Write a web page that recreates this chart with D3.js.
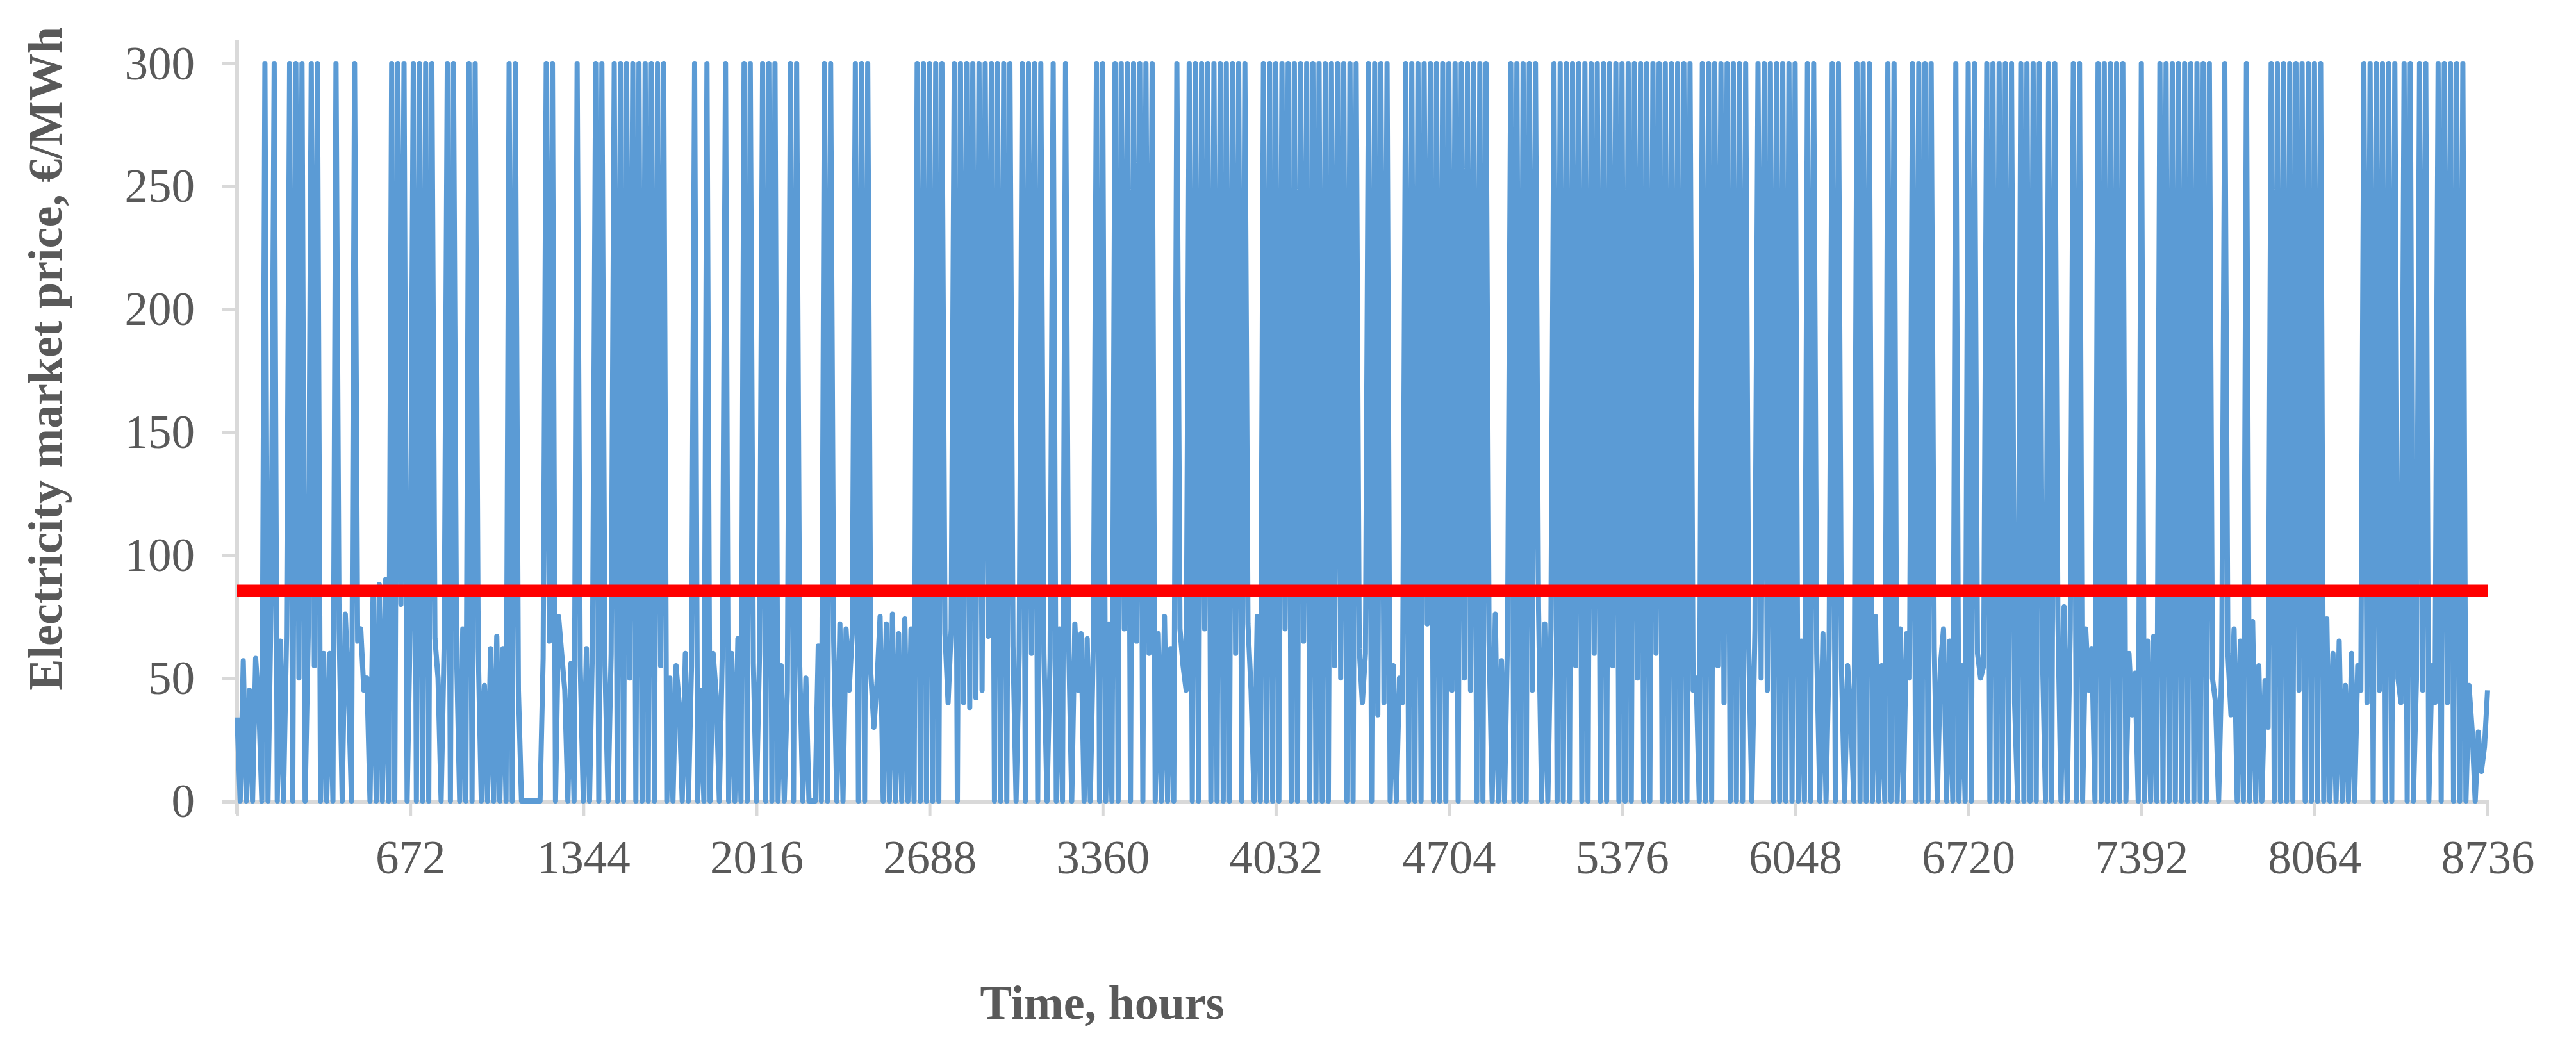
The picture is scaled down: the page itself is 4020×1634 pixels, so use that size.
<!DOCTYPE html>
<html>
<head>
<meta charset="utf-8">
<script src="https://cdn.jsdelivr.net/npm/d3@7"></script>
<style>
body{margin:0;background:#fff;}
text{font-family:"Liberation Serif","Times New Roman",serif;fill:#595959;}
</style>
</head>
<body>
<script>
// price readings (EUR/MWh), one every 12 hours, each list covers 672 hours
var step=12
var p0000=[34,0,57,0,45,0,58,40,0,300, 0,81,300,0,65,0,67,300,0,300, 50,300,0,67,300,55,300,0,60,0,
  60,0,300,70,0,76,47,0,300,65, 70,45,50,0,85,0,88,0,90,0, 300,0,300,80,300,0]
var p0672=[72,300,0,300, 0,300,0,300,66,50,0,65,300,0, 300,60,0,70,0,300,0,300,62,0,
  47,0,62,0,67,0,62,0,300,0, 300,45,0,0,0,0,0,0,0,58, 300,65,300,0,75,60,45,0,56,0, 300,55]
var p1344=[0,62,0,67,300,0,300,55, 0,60,300,0,300,0,300,50,300,0, 300,0,300,0,300,0,300,55,300,0,
  50,0,55,40,0,60,0,55,300,0, 45,0,300,0,60,43,0,63,300,0, 60,0,66,0,300,0,300,56]
var p2016=[0,60, 300,0,300,0,300,0,55,0,45,300, 0,300,55,0,50,0,0,0,63,0, 300,0,300,65,0,72,0,70,45,68,
  300,0,300,0,300,52,30,48,75,0, 72,0,76,0,68,0,74,0,70,0, 300,0,300,0]
var p2688=[300,0,300,0,300,68, 40,70,300,0,300,40,300,38,300,42, 300,45,300,67,300,0,300,0,300,0,
  300,63,0,60,300,0,300,60,300,0, 300,60,0,58,300,0,70,0,300,65, 0,72,45,68,0,66,0,65,300,0]
var p3360=[300,0,72,0,300,0,300,70,300,0, 300,65,300,0,300,60,300,0,68,0, 75,0,62,0,300,70,55,45,300,0,
  300,0,300,70,300,0,300,0,300,0, 300,0,300,60,300,0,300,72,45,0, 75,0,300,0,300,0]
var p4032=[300,0,300,70, 300,0,300,0,300,65,300,0,300,0, 300,0,300,0,300,55,300,50,300,0,
  300,0,300,62,40,60,300,0,300,35, 300,40,300,0,55,0,50,40,300,0, 300,0,300,0,300,72,300,0,300,0, 300,0]
var p4704=[300,45,300,0,300,50,300,45, 300,0,300,0,300,65,0,76,0,57, 0,70,300,0,300,0,300,0,300,45,
  300,78,0,72,0,70,300,0,300,0, 300,0,300,55,300,0,300,0,300,60, 300,0,300,0,300,55,300,0]
var p5376=[300,0, 300,0,300,50,300,0,300,0,300,60, 300,0,300,0,300,0,300,0,300,0, 300,45,50,0,300,0,300,0,300,55,
  300,40,300,0,300,0,300,0,300,62, 0,70,300,50,300,45,300,0,300,0, 300,0,300,0]
var p6048=[300,0,65,0,300,0, 300,60,0,68,0,62,300,0,300,54, 0,55,35,0,300,0,300,0,300,0,
  75,0,55,0,300,0,300,0,70,0, 68,50,300,0,300,0,300,0,300,62, 0,55,70,0,65,0,300,0,55,0]
var p6720=[300,0,300,60,50,55,300,0,300,0, 300,0,300,0,300,40,0,300,0,300, 0,300,0,300,60,0,300,0,300,75,
  0,79,0,70,300,0,300,0,70,45, 62,0,300,0,300,0,300,0,300,0, 300,0,60,35,52,0]
var p7392=[300,0,65,0, 67,0,300,0,300,0,300,0,300,0, 300,0,300,0,300,0,300,0,300,50,
  40,0,55,300,60,35,70,0,65,0, 300,0,73,0,55,0,49,30,300,0, 300,0,300,0,300,0,300,45,300,0, 300,0]
var p8064=[300,0,300,0,74,0,60,0, 65,0,47,0,60,0,55,45,300,40, 300,0,300,45,300,0,300,0,300,50,
  40,300,0,300,0,50,300,45,300,0, 55,40,300,0,300,40,300,0,300,0, 300,0,47,29,0,28,12,22, 45]

var tickHours=[0,672,1344,2016,2688,3360,4032,4704,5376,6048,6720,7392,8064,8736]
var yTicks=[0,50,100,150,200,250,300]
var meanPrice=[85.5]

var priceBlocks=[p0000,p0672,p1344,p2016,p2688,p3360,p4032,p4704,p5376,p6048,p6720,p7392,p8064]
var series=[]
priceBlocks.forEach(function(b){
  b.forEach(function(v){series.push({hour:series.length*step,price:v})})
})

var screen={width:4020,height:1634}
var grey="#d9d9d9"
var svg=d3.select("body").append("svg")
          .attr("width",screen.width)
          .attr("height",screen.height)

var x=d3.scaleLinear().domain([0,8736]).range([370,3882])
var y=d3.scaleLinear().domain([0,300]).range([1250,99])

// axis lines
svg.append("line")
   .attr("x1",370).attr("x2",370)
   .attr("y1",62).attr("y2",1271)
   .attr("stroke",grey).attr("stroke-width",6)
svg.append("line")
   .attr("x1",346).attr("x2",3885)
   .attr("y1",1251).attr("y2",1251)
   .attr("stroke",grey).attr("stroke-width",6)

var yAxis=svg.append("g")
             .attr("transform","translate(370,0)")
             .call(d3.axisLeft(y).tickValues(yTicks).tickSize(24).tickPadding(42))
yAxis.select(".domain").remove()
yAxis.selectAll("line").attr("stroke",grey).attr("stroke-width",5)
yAxis.selectAll("text")
     .attr("font-size","73px")
     .attr("font-family","Liberation Serif")
     .attr("fill","#595959")
     .attr("dy","0.33em")

var xAxis=svg.append("g")
             .attr("transform","translate(0,1251)")
             .call(d3.axisBottom(x).tickValues(tickHours).tickSize(22)
                   .tickFormat(function(d){return d===0?"":d}))
xAxis.select(".domain").remove()
xAxis.selectAll("line").attr("stroke",grey).attr("stroke-width",5)
xAxis.selectAll("text")
     .attr("font-size","73px")
     .attr("font-family","Liberation Serif")
     .attr("fill","#595959")
     .attr("y",112)
     .attr("dy",0)

// price line
var line=d3.line()
           .x(function(d){return x(d.hour)})
           .y(function(d){return y(d.price)})
svg.append("path")
   .datum(series)
   .attr("d",line)
   .attr("fill","none")
   .attr("stroke","#5b9bd5")
   .attr("stroke-width",8)
   .attr("stroke-linejoin","round")

// average line
svg.selectAll(".mean")
   .data(meanPrice)
   .enter()
   .append("line")
   .classed("mean",true)
   .attr("x1",x(0)).attr("x2",x(8736))
   .attr("y1",function(d){return y(d)})
   .attr("y2",function(d){return y(d)})
   .attr("stroke","#ff0000")
   .attr("stroke-width",19)

// titles
svg.append("text")
   .attr("x",1720)
   .attr("y",1590)
   .attr("text-anchor","middle")
   .attr("font-size","74px")
   .attr("font-weight","bold")
   .text("Time, hours")
svg.append("text")
   .attr("transform","translate(96,560) rotate(-90)")
   .attr("text-anchor","middle")
   .attr("font-size","74px")
   .attr("font-weight","bold")
   .text("Electricity market price, €/MWh")
</script>
</body>
</html>
